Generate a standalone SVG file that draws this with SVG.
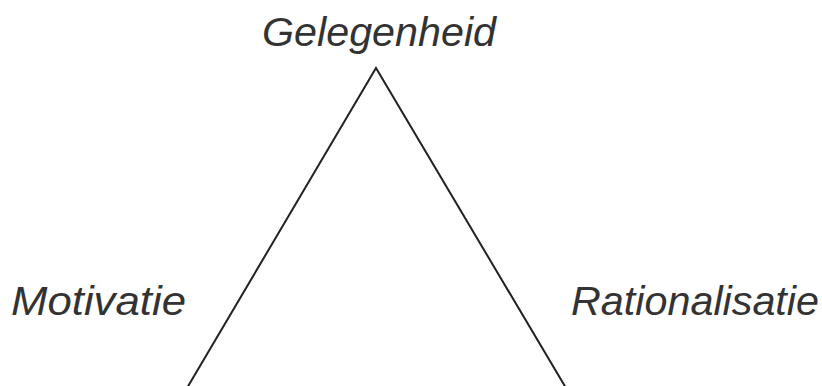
<svg xmlns="http://www.w3.org/2000/svg" width="822" height="386" viewBox="0 0 822 386">
<style>
.lbl{font-family:"Liberation Sans",Arial,sans-serif;font-style:italic;font-size:41px;fill:#333}
.edge{fill:none;stroke:#222;stroke-width:2;stroke-linejoin:miter}
</style>
<rect width="822" height="386" fill="#fff"/>
<g id="connectors">
<polyline class="edge" points="187,388 376,68 566,388"/>
</g>
<g id="gelegenheid"><text class="lbl" x="262" y="46" textLength="234" lengthAdjust="spacingAndGlyphs">Gelegenheid</text></g>
<g id="motivatie"><text class="lbl" x="11" y="315" textLength="175" lengthAdjust="spacingAndGlyphs">Motivatie</text></g>
<g id="rationalisatie"><text class="lbl" x="571" y="315" textLength="248" lengthAdjust="spacingAndGlyphs">Rationalisatie</text></g>
</svg>
